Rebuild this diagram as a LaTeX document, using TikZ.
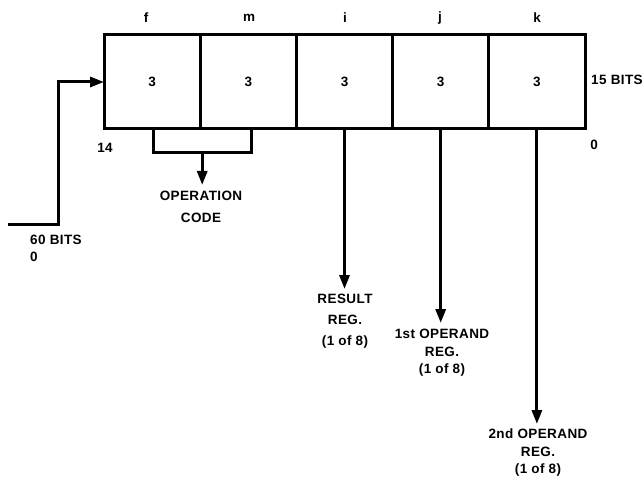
\documentclass[tikz,border=0pt]{standalone}
\usepackage{fontspec}
\setmainfont{Liberation Sans}
\usetikzlibrary{arrows.meta,calc}
\newcommand{\dfont}[1]{\fontsize{13.5}{#1}\selectfont\bfseries\addfontfeature{LetterSpace=3}}
\begin{document}
\begin{tikzpicture}[x=1pt,y=-1pt,
  font=\dfont{16},
  cell/.style={draw,line width=3pt,minimum width=96.2pt,minimum height=94pt,inner sep=0pt,outer sep=0pt},
  conn/.style={line width=3pt},
  arr/.style={line width=3pt,-{Triangle[width=10pt,length=14pt]}},
  lbl/.style={inner sep=0pt,align=center}]
\useasboundingbox (0,0) rectangle (644,478);
\node[cell] (f) at (152.1,82) {3};
\node[cell] (m) at (248.3,82) {3};
\node[cell] (i) at (344.5,82) {3};
\node[cell] (j) at (440.7,82) {3};
\node[cell] (k) at (536.9,82) {3};
\node[lbl] (lf) at (146,18) {f};
\node[lbl] (lm) at (249,18) {m};
\node[lbl] (li) at (345,18) {i};
\node[lbl] (lj) at (440,18) {j};
\node[lbl] (lk) at (537,18) {k};
\node[lbl,anchor=west] (b15) at (591,80) {15 BITS};
\node[lbl] (n14) at (105,148) {14};
\node[lbl] (n0) at (594,145) {0};
\node[lbl,anchor=west] (b60) at (30,240) {60 BITS};
\node[lbl,anchor=west] (b0) at (30,257) {0};
\coordinate (in0) at (8,224);
\draw[arr] (in0) -- (58,224) |- (f.west);
\draw[conn] ($(f.south)+(1,0)$) |- ($(m.south)+(3,24)$) -- ($(m.south)+(3,0)$);
\coordinate (brk) at ($(f.south)!0.5!(m.south)+(2,24)$);
\node[lbl,font=\dfont{22}] (op) at (201,207) {OPERATION\\CODE};
\draw[arr] (brk) -- (brk |- 0,185);
\node[lbl,font=\dfont{21}] (res) at (345,321) {RESULT\\REG.\\(1 of 8)};
\draw[arr] (i.south) -- (i.south |- 0,289);
\node[lbl,font=\dfont{17.5}] (op1) at (442,353) {1st OPERAND\\REG.\\(1 of 8)};
\draw[arr] (j.south) -- (j.south |- 0,323);
\node[lbl,font=\dfont{17.5}] (op2) at (538,453) {2nd OPERAND\\REG.\\(1 of 8)};
\draw[arr] (k.south) -- (k.south |- 0,424);
\end{tikzpicture}
\end{document}
